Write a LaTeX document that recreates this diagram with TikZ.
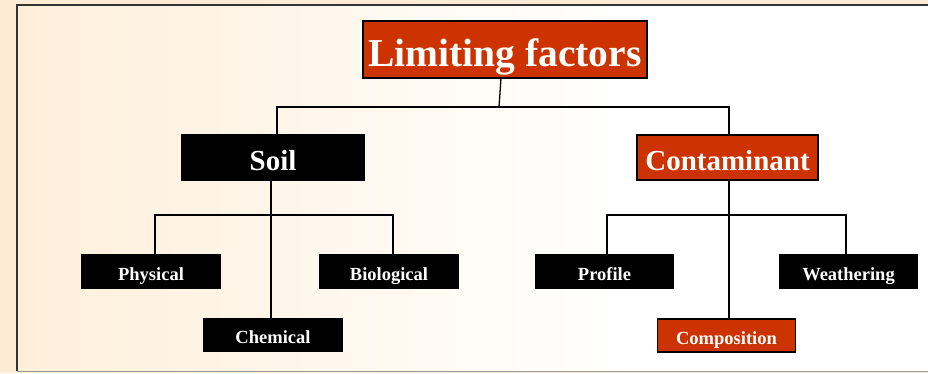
\documentclass[tikz,border=0pt]{standalone}
\usepackage{fontspec}
\setmainfont{Liberation Serif}
\definecolor{redbox}{HTML}{CC3300}
\definecolor{cream}{HTML}{FEEFDA}
\definecolor{outer}{HTML}{FDEBD5}
\begin{document}
\begin{tikzpicture}[x=1pt,y=-1pt,
  box/.style={draw=black, line width=1.2pt, inner sep=0pt, text=white, font=\bfseries, text depth=0pt},
  blk/.style={box, fill=black},
  red/.style={box, fill=redbox},
  conn/.style={line width=1.3pt, draw=black}]
\useasboundingbox (0,0) rectangle (928,373);
\fill[outer] (0,0) rectangle (928,373);
\shade[left color=cream, right color=white] (17,5) rectangle (620,371);
\fill[white] (620,5) rectangle (928,371);
\draw[line width=1.2pt, black!80] (930,5) -- (17,5) -- (17,371);
\draw[line width=1pt, black!40] (17,371) -- (930,371);

\node[red, minimum width=284pt, minimum height=57pt, text height=34pt, font=\bfseries\fontsize{39.5}{44}\selectfont] (lim) at (505,49.5) {Limiting factors};
\tikzset{mid/.style={minimum height=45pt, text height=25pt, font=\bfseries\fontsize{29}{32}\selectfont}}
\node[blk, mid, minimum width=182pt] (soil) at (273,157.5) {Soil};
\node[red, mid, minimum width=181pt] (cont) at (727.5,157.5) {Contaminant};

\tikzset{small/.style={minimum width=138pt, minimum height=33pt, text height=17pt, font=\bfseries\fontsize{18.5}{20}\selectfont}}
\node[blk, small] (phys) at (151,271.5) {Physical};
\node[blk, small] (bio) at (389,271.5) {Biological};
\node[blk, small] (chem) at (273,335) {Chemical};
\node[blk, small] (prof) at (604.5,271.5) {Profile};
\node[blk, small] (weat) at (848.5,271.5) {Weathering};
\node[red, small] (comp) at (726.5,335.5) {Composition};

% top connectors
\coordinate (lj) at (499,107);
\draw[conn] (501,78) -- (lj);
\draw[conn] (soil.north -| 277,0) |- (lj) -| (cont.north -| 729,0);

% soil branch
\coordinate (sj) at (271,215);
\draw[conn] (soil.south -| sj) -- (chem.north -| sj);
\draw[conn] (phys.north -| 155,0) |- (sj) -| (bio.north -| 393,0);

% contaminant branch
\coordinate (cj) at (729,215);
\draw[conn] (cont.south -| cj) -- (comp.north -| cj);
\draw[conn] (prof.north -| 607,0) |- (cj) -| (weat.north -| 846,0);
\end{tikzpicture}
\end{document}
